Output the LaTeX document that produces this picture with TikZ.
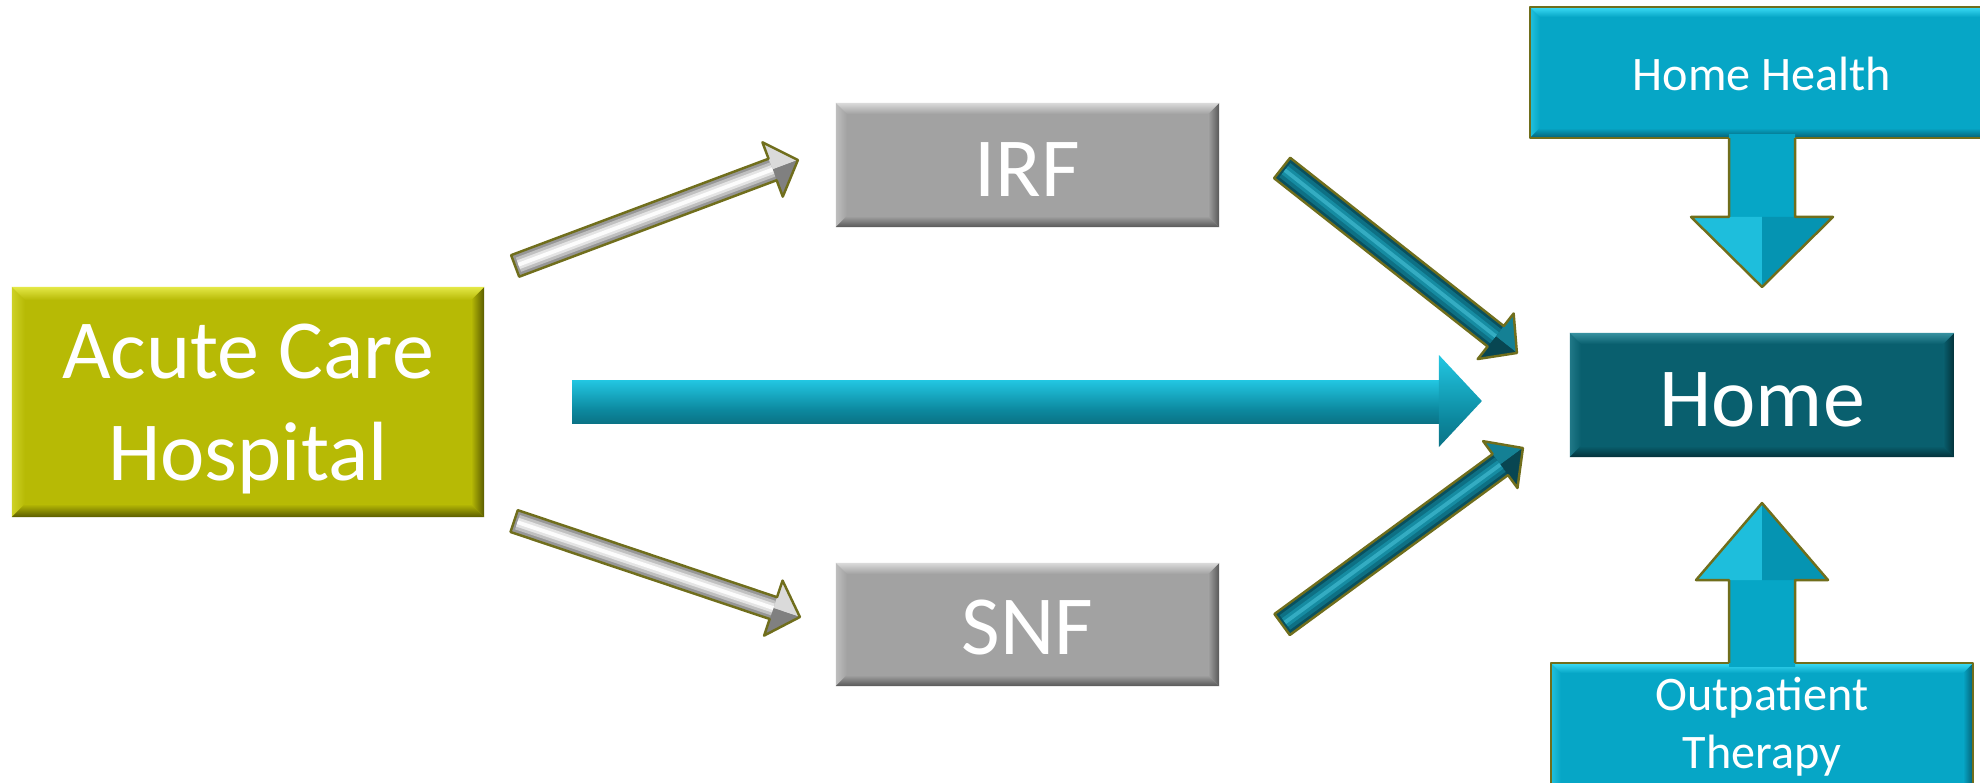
\documentclass[tikz,border=0pt]{standalone}
\usepackage{fontspec}
\setmainfont{Carlito}
\usetikzlibrary{calc}

% box colours: base, highlight, shadow
\definecolor{acuteC}{RGB}{183,186,5}
\definecolor{acuteL}{RGB}{228,232,70}
\definecolor{acuteD}{RGB}{90,92,0}
\definecolor{greyC}{RGB}{162,162,162}
\definecolor{greyL}{RGB}{218,218,218}
\definecolor{greyD}{RGB}{88,88,88}
\definecolor{homeC}{RGB}{9,95,110}
\definecolor{homeL}{RGB}{55,145,160}
\definecolor{homeD}{RGB}{3,50,58}
\definecolor{cyanC}{RGB}{6,166,198}
\definecolor{cyanL}{RGB}{60,220,246}
\definecolor{cyanD}{RGB}{4,96,116}
\definecolor{cyanEdge}{RGB}{5,120,144}
\definecolor{cyanLit}{RGB}{30,190,220}
\definecolor{cyanDim}{RGB}{5,148,178}
\definecolor{oliveEdge}{RGB}{112,110,28}
% arrow colours
\definecolor{silverA}{RGB}{150,150,150}
\definecolor{silverB}{RGB}{192,192,192}
\definecolor{silverC}{RGB}{228,228,228}
\definecolor{silverE}{RGB}{252,252,252}
\definecolor{silverL}{RGB}{218,218,218}
\definecolor{silverD}{RGB}{128,128,128}
\definecolor{tealA}{RGB}{9,80,94}
\definecolor{tealB}{RGB}{14,112,132}
\definecolor{tealC}{RGB}{22,140,162}
\definecolor{tealE}{RGB}{52,172,194}
\definecolor{tealL}{RGB}{20,128,148}
\definecolor{tealD}{RGB}{8,70,82}
\definecolor{midBot}{RGB}{8,80,94}
\definecolor{midMid}{RGB}{12,136,158}
\definecolor{midTop}{RGB}{36,204,232}
\definecolor{midHi}{RGB}{20,170,198}

\pgfdeclareverticalshading{midbar}{100bp}{color(0bp)=(midBot); color(40bp)=(midMid); color(78bp)=(midTop); color(100bp)=(midHi)}
\pgfdeclarehorizontalshading{stembar}{100bp}{color(0bp)=(cyanEdge); color(22bp)=(cyanC); color(78bp)=(cyanC); color(100bp)=(cyanEdge)}

\tikzset{
  box/.style={rectangle, inner sep=0pt, outer sep=0pt, text=white},
  big/.style={font=\fontsize{23.9}{29}\selectfont},
  small/.style={font=\fontsize{13.7}{16.5}\selectfont},
  edge/.style={draw=oliveEdge, line width=0.7pt, line join=round},
  silver body/.style={fill=silverA},
  silver lit/.style={fill=silverL},
  silver dim/.style={fill=silverD},
  silver band a/.style={draw=silverB, line width=4.3pt},
  silver band b/.style={draw=silverC, line width=2.6pt},
  silver band c/.style={draw=silverE, line width=1.1pt},
  teal body/.style={fill=tealA},
  teal lit/.style={fill=tealL},
  teal dim/.style={fill=tealD},
  teal band a/.style={draw=tealB, line width=5.1pt},
  teal band b/.style={draw=tealC, line width=2.9pt},
  teal band c/.style={draw=tealE, line width=1.1pt},
}

% bevelled edges of a box node: node, bevel depth, highlight, base, shadow
\newcommand\bevelbox[5]{%
  \shade[left color=#3!50!#4, right color=#4] (#1.north west) -- (#1.south west) -- ($(#1.south west)+(#2,-#2)$) -- ($(#1.north west)+(#2,#2)$) -- cycle;
  \shade[left color=#4, right color=#5] (#1.north east) -- (#1.south east) -- ($(#1.south east)+(-#2,-#2)$) -- ($(#1.north east)+(-#2,#2)$) -- cycle;
  \shade[top color=#3, bottom color=#4] (#1.north west) -- (#1.north east) -- ($(#1.north east)+(-#2,#2)$) -- ($(#1.north west)+(#2,#2)$) -- cycle;
  \shade[top color=#4, bottom color=#5] (#1.south west) -- (#1.south east) -- ($(#1.south east)+(-#2,-#2)$) -- ($(#1.south west)+(#2,-#2)$) -- cycle;
}

% block arrow: from, to, shaft half width, head half width, head length, kind
\newcommand\fatarrow[6]{%
  \coordinate (fa-b) at ($(#2)!#5!(#1)$);
  \coordinate (fa-t1) at ($(#1)!#3!90:(#2)$);
  \coordinate (fa-t2) at ($(#1)!#3!-90:(#2)$);
  \coordinate (fa-s1) at ($(fa-b)!#3!90:(#2)$);
  \coordinate (fa-s2) at ($(fa-b)!#3!-90:(#2)$);
  \coordinate (fa-h1) at ($(fa-b)!#4!90:(#2)$);
  \coordinate (fa-h2) at ($(fa-b)!#4!-90:(#2)$);
  \fill[#6 body] (fa-t1) -- (fa-s1) -- (fa-h1) -- (#2) -- (fa-h2) -- (fa-s2) -- (fa-t2) -- cycle;
  \fill[#6 lit] (fa-h1) -- (#2) -- (fa-b) -- cycle;
  \fill[#6 dim] (fa-h2) -- (#2) -- (fa-b) -- cycle;
  \draw[#6 band a] ($(#1)!1pt!(#2)$) -- (fa-b);
  \draw[#6 band b] ($(#1)!1pt!(#2)$) -- (fa-b);
  \draw[#6 band c] ($(#1)!1pt!(#2)$) -- (fa-b);
  \draw[edge] (fa-t1) -- (fa-s1) -- (fa-h1) -- (#2) -- (fa-h2) -- (fa-s2) -- (fa-t2) -- cycle;
}

\begin{document}
\begin{tikzpicture}[x=0.01cm, y=-0.01cm]
\useasboundingbox (0,0) rectangle (1980,782);
\fill[white] (0,0) rectangle (1980,782);

% ---- care settings ----
\node[box, big, fill=acuteC, minimum width=4.72cm, minimum height=2.30cm,
      align=center, text depth=0pt] (acute) at (248,402) {Acute Care\\Hospital};
\bevelbox{acute}{13}{acuteL}{acuteC}{acuteD}

\node[box, big, fill=greyC, minimum width=3.83cm, minimum height=1.24cm,
      text height=0.62cm, text depth=0pt] (irf) at (1027.5,165) {IRF};
\bevelbox{irf}{11}{greyL}{greyC}{greyD}

\node[box, big, fill=greyC, minimum width=3.83cm, minimum height=1.23cm,
      text height=0.59cm, text depth=0pt] (snf) at (1027.5,624.5) {SNF};
\bevelbox{snf}{11}{greyL}{greyC}{greyD}

\node[box, big, fill=homeC, minimum width=3.84cm, minimum height=1.24cm,
      text height=0.62cm, text depth=0pt] (home) at (1762,395) {Home};
\bevelbox{home}{11}{homeL}{homeC}{homeD}

% ---- Home Health callout ----
\node[box, small, fill=cyanC, minimum width=4.64cm, minimum height=1.31cm,
      text height=0.36cm, text depth=0pt] (hh) at (1762,72.5) {Home Health};
\bevelbox{hh}{10}{cyanL}{cyanC}{cyanD}
\draw[edge] (hh.north west) rectangle (hh.south east);
\coordinate (hhtip) at ($(home.north)+(0,-46)$);
\shade[shading=stembar] ($(hh.south)+(-33,-4)$) rectangle ($(hhtip)+(33,-70)$);
\fill[cyanLit] ($(hhtip)+(-71,-70)$) -- (hhtip) -- ($(hhtip)+(0,-70)$) -- cycle;
\fill[cyanDim] ($(hhtip)+(71,-70)$) -- (hhtip) -- ($(hhtip)+(0,-70)$) -- cycle;
\draw[edge] ($(hh.south)+(-33,0)$) -- ($(hhtip)+(-33,-70)$) -- ($(hhtip)+(-71,-70)$) -- (hhtip)
  -- ($(hhtip)+(71,-70)$) -- ($(hhtip)+(33,-70)$) -- ($(hh.south)+(33,0)$);

% ---- Outpatient Therapy callout ----
\node[box, fill=cyanC, minimum width=4.22cm, minimum height=1.57cm] (ot) at (1762,741.5) {};
\bevelbox{ot}{10}{cyanL}{cyanC}{cyanD}
\draw[edge] (ot.north west) rectangle (ot.south east);
\coordinate (ottip) at ($(home.south)+(0,46)$);
\shade[shading=stembar] ($(ottip)+(-33,77)$) rectangle ($(ot.north)+(33,4)$);
\fill[cyanLit] ($(ottip)+(-66,77)$) -- (ottip) -- ($(ottip)+(0,77)$) -- cycle;
\fill[cyanDim] ($(ottip)+(66,77)$) -- (ottip) -- ($(ottip)+(0,77)$) -- cycle;
\draw[edge] ($(ot.north)+(-33,0)$) -- ($(ottip)+(-33,77)$) -- ($(ottip)+(-66,77)$) -- (ottip)
  -- ($(ottip)+(66,77)$) -- ($(ottip)+(33,77)$) -- ($(ot.north)+(33,0)$);
\node[box, small, align=center, text height=0.53cm, text depth=0pt] (otlabel) at (ot.center) {Outpatient\\Therapy};

% ---- direct discharge arrow ----
\coordinate (m1) at ($(acute.east)+(88,0)$);
\coordinate (m2) at ($(home.west)+(-88,6)$);
\coordinate (mb) at ($(m2)+(-43,0)$);
\shade[shading=midbar] ($(m1)+(0,-22)$) rectangle ($(mb)+(0,22)$);
\shade[shading=midbar] ($(mb)+(0,-46)$) -- (m2) -- ($(mb)+(0,46)$) -- cycle;

% ---- transfers to post-acute care ----
\coordinate (w1s) at ($(acute.north east)+(31,-21)$);
\coordinate (w1e) at ($(irf.west)+(-38,-5)$);
\fatarrow{w1s}{w1e}{0.115cm}{0.29cm}{0.27cm}{silver}

\coordinate (w2s) at ($(acute.south east)+(30,4)$);
\coordinate (w2e) at ($(snf.west)+(-36,-7.5)$);
\fatarrow{w2s}{w2e}{0.115cm}{0.29cm}{0.28cm}{silver}

% ---- discharges home from IRF and SNF ----
\coordinate (t1s) at ($(irf.east)+(63,3)$);
\coordinate (t1e) at ($(home.north west)+(-53,20)$);
\fatarrow{t1s}{t1e}{0.13cm}{0.29cm}{0.27cm}{teal}

\coordinate (t2s) at ($(snf.east)+(63,0)$);
\coordinate (t2e) at ($(home.south west)+(-47,-9)$);
\fatarrow{t2s}{t2e}{0.13cm}{0.29cm}{0.28cm}{teal}
\end{tikzpicture}
\end{document}
